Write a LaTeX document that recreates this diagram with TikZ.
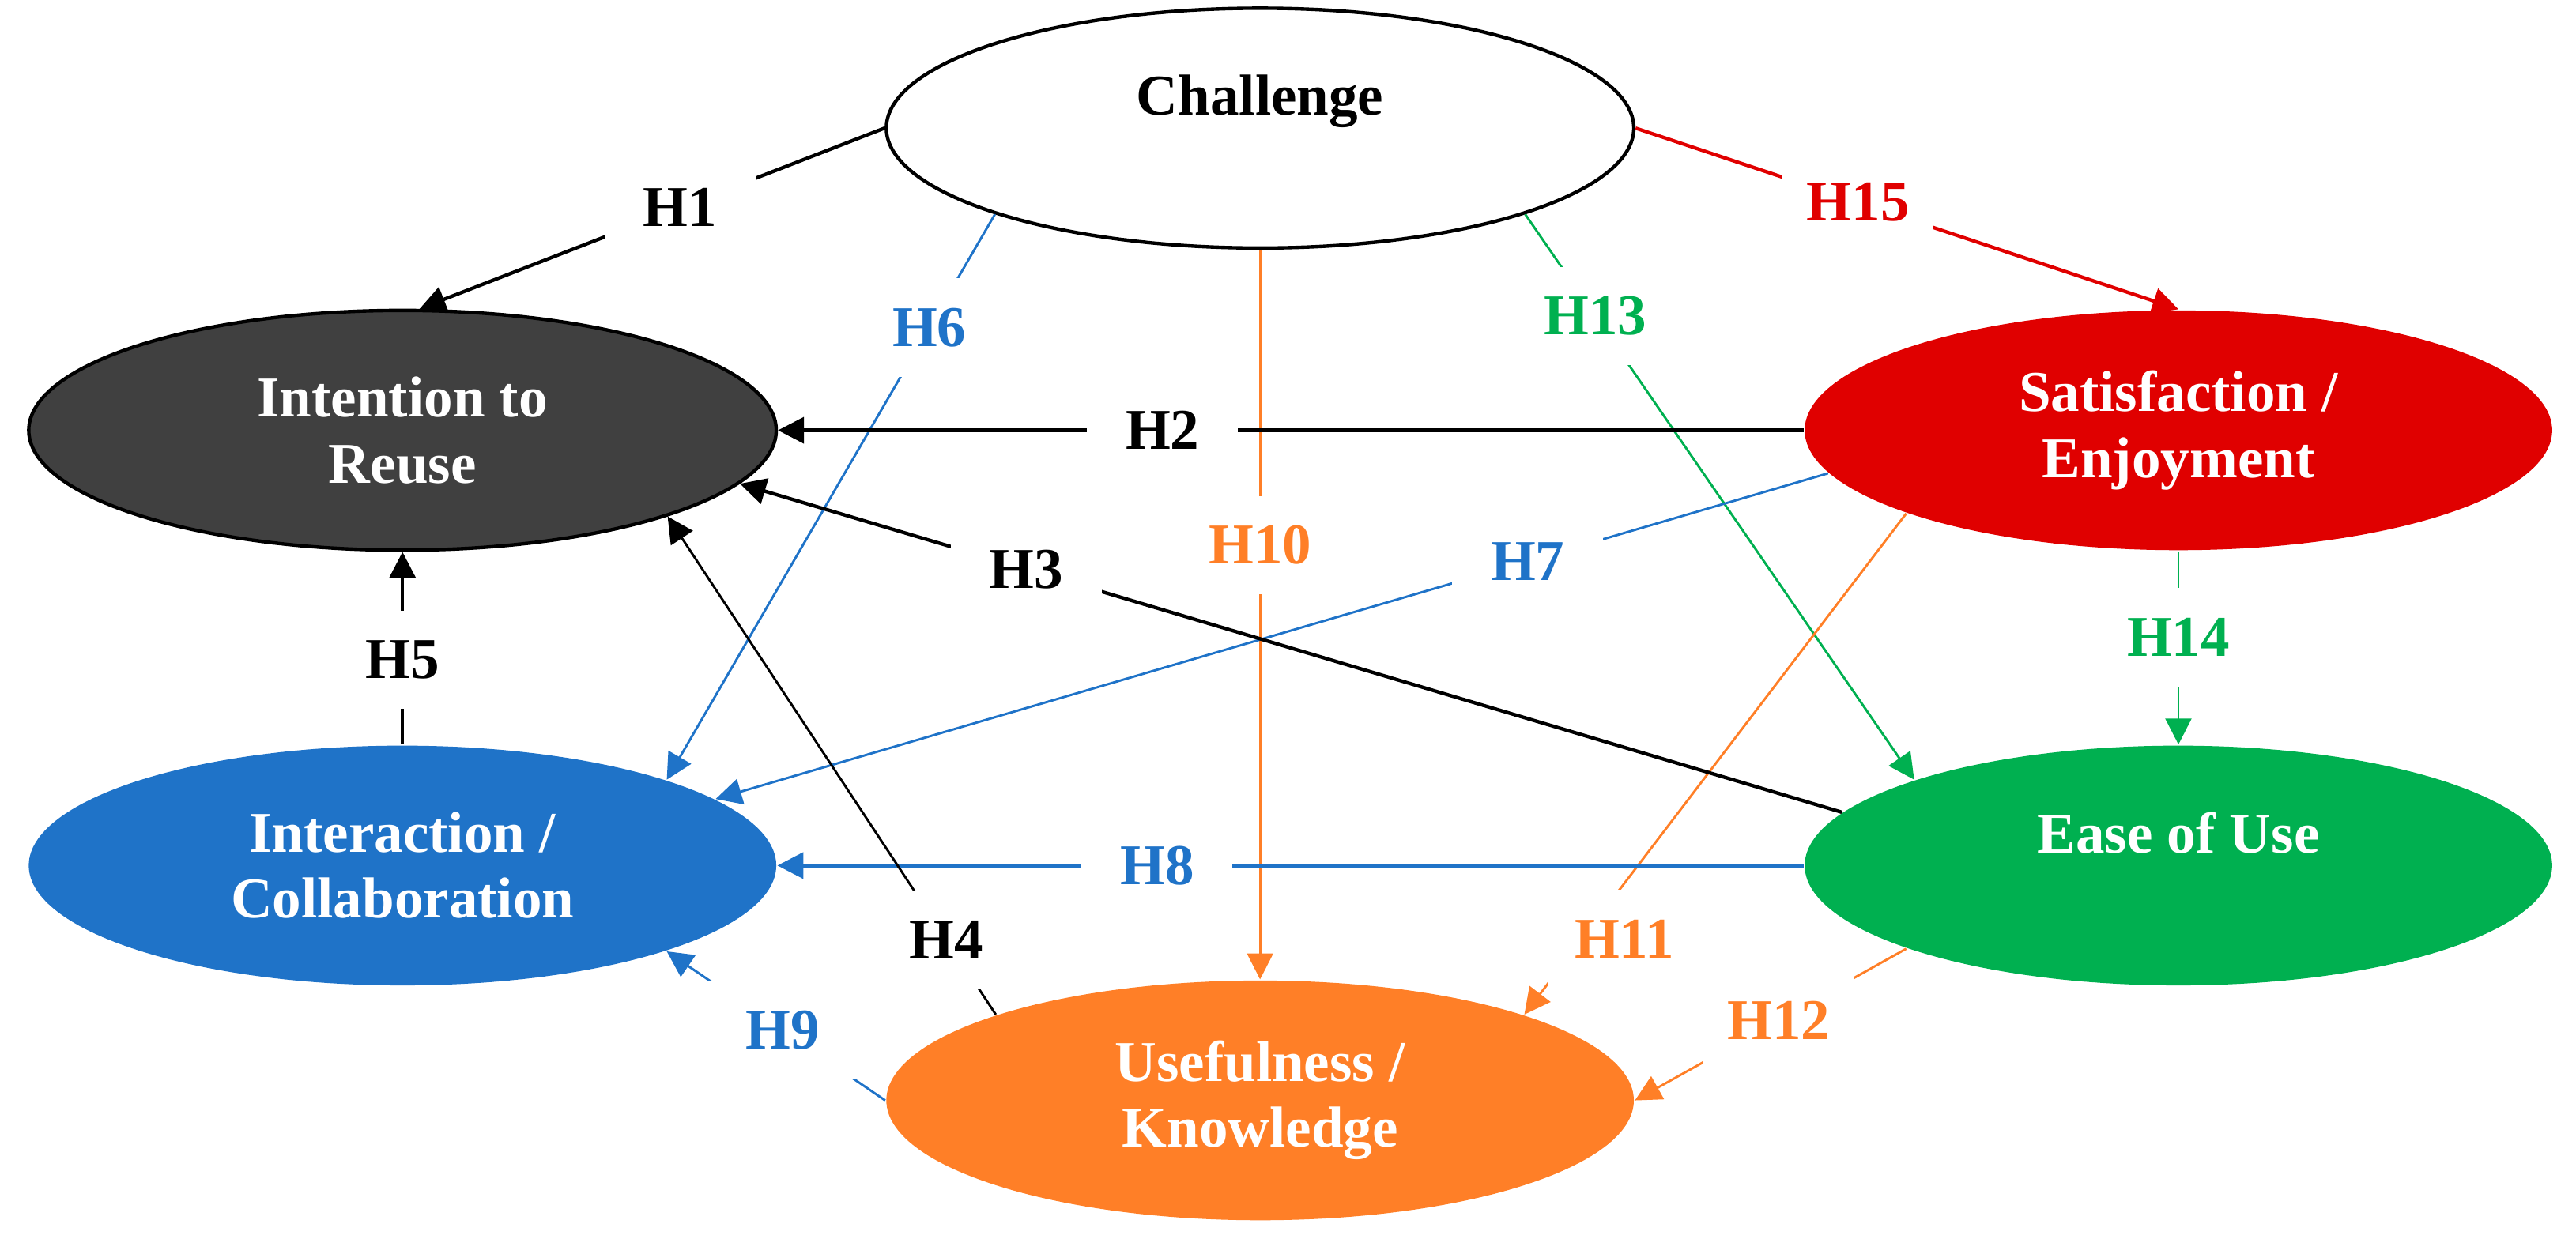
\documentclass[tikz,border=0pt]{standalone}
\usepackage{fontspec}
\setmainfont{Liberation Serif}
\usetikzlibrary{arrows.meta,shapes.geometric}

\definecolor{darkgrey}{HTML}{404040}
\definecolor{satred}{HTML}{E00000}
\definecolor{interblue}{HTML}{1F73C8}
\definecolor{easegreen}{HTML}{00B050}
\definecolor{usforange}{HTML}{FF7F27}

\tikzset{
    construct/.style={ellipse, minimum width=4.55cm, minimum height=1.46cm, inner sep=0pt,
        align=center, font=\bfseries\fontsize{10}{11.4}\selectfont},
    hyp/.style={fill=white, inner sep=0pt, minimum width=0.92cm, minimum height=0.6cm,
        font=\bfseries\fontsize{10}{12}\selectfont},
    link/.style={-{Triangle[length=4.5pt,width=4.5pt]}, line width=0.4pt},
    boldlink/.style={link, line width=0.6pt}
}

\begin{document}
\begin{tikzpicture}[x=0.1mm, y=-0.1mm, node distance=2.65cm]
        \useasboundingbox (0,0) rectangle (1568,754.4);

        \node (chal) [construct, draw, line width=0.6pt, fill=white] at (767,78) {Challenge\\~};
        \node (intent) [construct, draw, line width=0.6pt, fill=darkgrey, text=white] at (245,262) {Intention to\\Reuse};
        \node (satis) [construct, fill=satred, text=white] at (1326,262) {Satisfaction /\\Enjoyment};
        \node (inter) [construct, fill=interblue, text=white, below of=intent] {Interaction /\\Collaboration};
        \node (ease) [construct, fill=easegreen, text=white, below of=satis] {Ease of Use\\~};
        \node (useful) [construct, fill=usforange, text=white] at (767,670) {Usefulness /\\Knowledge};

        % from Challenge
        \draw[boldlink] (chal.west) -- node[hyp, pos=0.44] {H1} (intent.82);
        \draw[link, interblue] (chal.198) -- node[hyp, pos=0.2] {H6} (inter.18);
        \draw[link, usforange] (chal.south) -- node[hyp, pos=0.405] {H10} (useful.north);
        \draw[link, easegreen] (chal.-18) -- node[hyp, pos=0.18] {H13} (ease.162);
        \draw[boldlink, satred] (chal.east) -- node[hyp, pos=0.41] {H15} (satis.north);

        % from Satisfaction / Enjoyment
        \draw[boldlink] (satis.west) -- node[hyp, pos=0.625] {H2} (intent.east);
        \draw[link, interblue] (satis.187) -- node[hyp, pos=0.27] {H7} (inter.12);
        \draw[link, usforange] (satis.197) -- node[hyp, pos=0.85, xshift=0.26cm] {H11} (useful.18);
        \draw[link, easegreen] (satis.south) -- node[hyp, pos=0.445] {H14} (ease.north);

        % from Ease of Use
        \draw[boldlink] (ease.171) -- node[hyp, pos=0.74] {H3} (intent.-9);
        \draw[boldlink, interblue] (ease.west) -- node[hyp, pos=0.63] {H8} (inter.east);
        \draw[link, usforange] (ease.197) -- node[hyp, pos=0.47] {H12} (useful.east);

        % from Interaction and Usefulness
        \draw[boldlink] (inter.north) -- node[hyp, pos=0.44] {H5} (intent.south);
        \draw[link] (useful.162) -- node[hyp, pos=0.15] {H4} (intent.-18);
        \draw[link, interblue] (useful.west) -- node[hyp, pos=0.47] {H9} (inter.-18);
    \end{tikzpicture}
\end{document}
